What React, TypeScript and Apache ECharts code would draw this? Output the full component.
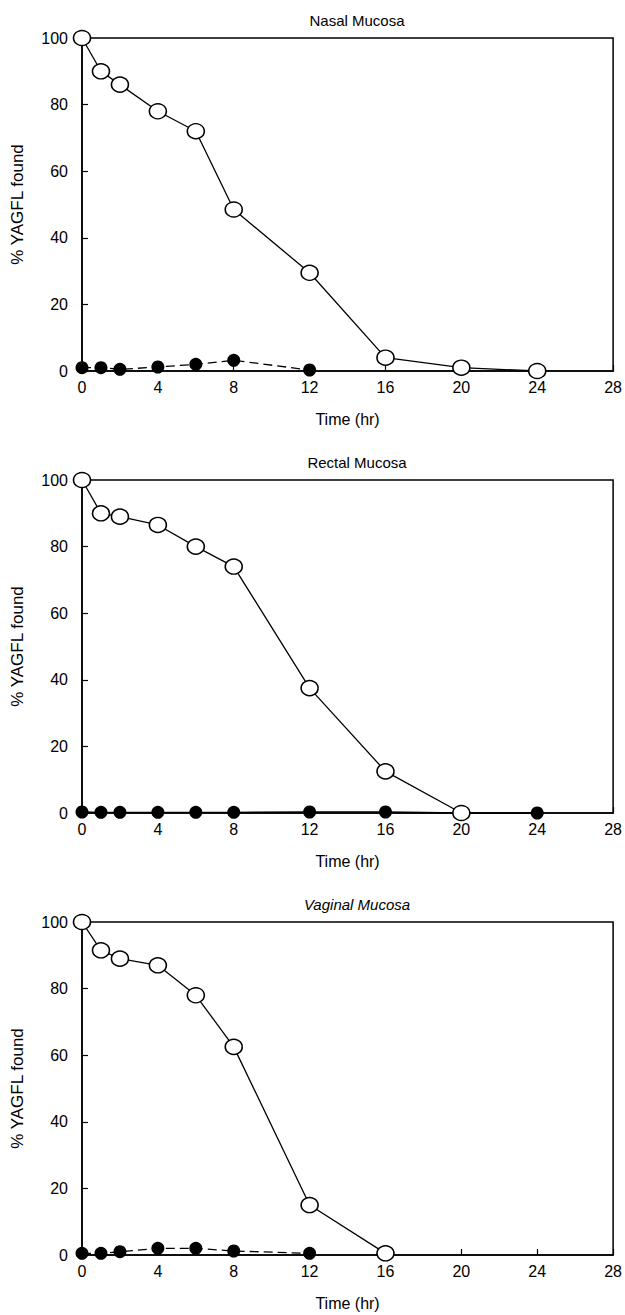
import React, { useEffect, useRef } from "react";
import * as echarts from "echarts";

const panelTitles = ["Nasal Mucosa", "Rectal Mucosa", "Vaginal Mucosa"];
const xTicks = [0, 4, 8, 12, 16, 20, 24, 28];
const yTicks = [0, 20, 40, 60, 80, 100];

const nasalOpenT = [0, 1, 2, 4, 6, 8, 12, 16, 20, 24];
const nasalOpen = [100, 90, 86, 78, 72, 48.5, 29.5, 4, 1, 0];
const nasalFilledT = [0, 1, 2, 4, 6, 8, 12];
const nasalFilled = [1, 1, 0.5, 1.2, 2, 3.2, 0.3];

const rectalOpenT = [0, 1, 2, 4, 6, 8, 12, 16, 20];
const rectalOpen = [100, 90, 89, 86.5, 80, 74, 37.5, 12.5, 0];
const rectalFilledT = [0, 1, 2, 4, 6, 8, 12, 16, 20, 24];
const rectalFilled = [0.3, 0.2, 0.2, 0.2, 0.2, 0.2, 0.3, 0.3, 0, 0];

const vaginalOpenT = [0, 1, 2, 4, 6, 8, 12, 16];
const vaginalOpen = [100, 91.5, 89, 87, 78, 62.5, 15, 0.5];
const vaginalFilledT = [0, 1, 2, 4, 6, 8, 12];
const vaginalFilled = [0.5, 0.5, 1, 2, 2, 1.2, 0.5];

const panels = [
  { openT: nasalOpenT, open: nasalOpen, filledT: nasalFilledT, filled: nasalFilled, dashed: true },
  { openT: rectalOpenT, open: rectalOpen, filledT: rectalFilledT, filled: rectalFilled, dashed: false },
  { openT: vaginalOpenT, open: vaginalOpen, filledT: vaginalFilledT, filled: vaginalFilled, dashed: true },
];

const zip = (t: number[], v: number[]) => t.map((x, i) => [x, v[i]]);

export default function App() {
  const ref = useRef<HTMLDivElement>(null);
  useEffect(() => {
    document.body.style.margin = "0";
    const chart = echarts.init(ref.current!, undefined, { renderer: "svg" });
    const font = "Liberation Sans, Arial, sans-serif";
    const tops = [38, 480, 922];
    const h = 333;
    const grids = tops.map((t) => ({
      left: 82,
      right: 10,
      top: t,
      height: h,
      show: true,
      borderColor: "#000",
      borderWidth: 1.5,
      backgroundColor: "transparent",
    }));
    const xAxes = tops.map((_, i) => ({
      type: "value",
      gridIndex: i,
      min: 0,
      max: 28,
      interval: 4,
      name: "Time (hr)",
      nameLocation: "middle",
      nameGap: 40,
      nameTextStyle: { color: "#000", fontSize: 16, fontFamily: font },
      axisLine: { show: true, lineStyle: { color: "#000", width: 1.5 } },
      axisTick: { show: true, inside: true, length: 6, lineStyle: { color: "#000", width: 1.2 } },
      axisLabel: { color: "#000", fontSize: 16, fontFamily: font, margin: 8 },
      splitLine: { show: false },
    }));
    const yAxes = tops.map((_, i) => ({
      type: "value",
      gridIndex: i,
      min: 0,
      max: 100,
      interval: 20,
      name: "% YAGFL found",
      nameLocation: "middle",
      nameGap: 56,
      nameTextStyle: { color: "#000", fontSize: 17, fontFamily: font },
      axisLine: { show: true, lineStyle: { color: "#000", width: 1.5 } },
      axisTick: { show: true, inside: true, length: 6, lineStyle: { color: "#000", width: 1.2 } },
      axisLabel: { color: "#000", fontSize: 16, fontFamily: font, margin: 14 },
      splitLine: { show: false },
    }));
    const titles = tops.map((t, i) => ({
      text: panelTitles[i],
      left: 352,
      top: t - 30,
      textAlign: "center",
      textStyle: {
        color: "#000",
        fontSize: 15,
        fontWeight: "normal",
        fontStyle: i === 2 ? "italic" : "normal",
        fontFamily: font,
      },
    }));
    const series: any[] = [];
    panels.forEach((p, i) => {
      series.push({
        type: "line",
        xAxisIndex: i,
        yAxisIndex: i,
        data: zip(p.filledT, p.filled),
        symbol: "circle",
        symbolSize: 13,
        clip: false,
        itemStyle: { color: "#000" },
        lineStyle: { color: "#000", width: 1.3, type: p.dashed ? [9, 5] : "solid" },
        z: 3,
      });
      series.push({
        type: "line",
        xAxisIndex: i,
        yAxisIndex: i,
        data: zip(p.openT, p.open),
        symbol: "circle",
        symbolSize: [17, 15],
        clip: false,
        itemStyle: { color: "#fff", borderColor: "#000", borderWidth: 1.5 },
        lineStyle: { color: "#000", width: 1.3 },
        z: 4,
      });
    });
    chart.setOption({
      animation: false,
      backgroundColor: "#fff",
      title: titles,
      grid: grids,
      xAxis: xAxes,
      yAxis: yAxes,
      series,
    });
    return () => chart.dispose();
  }, []);
  return <div ref={ref} style={{ width: 625, height: 1315 }} />;
}
